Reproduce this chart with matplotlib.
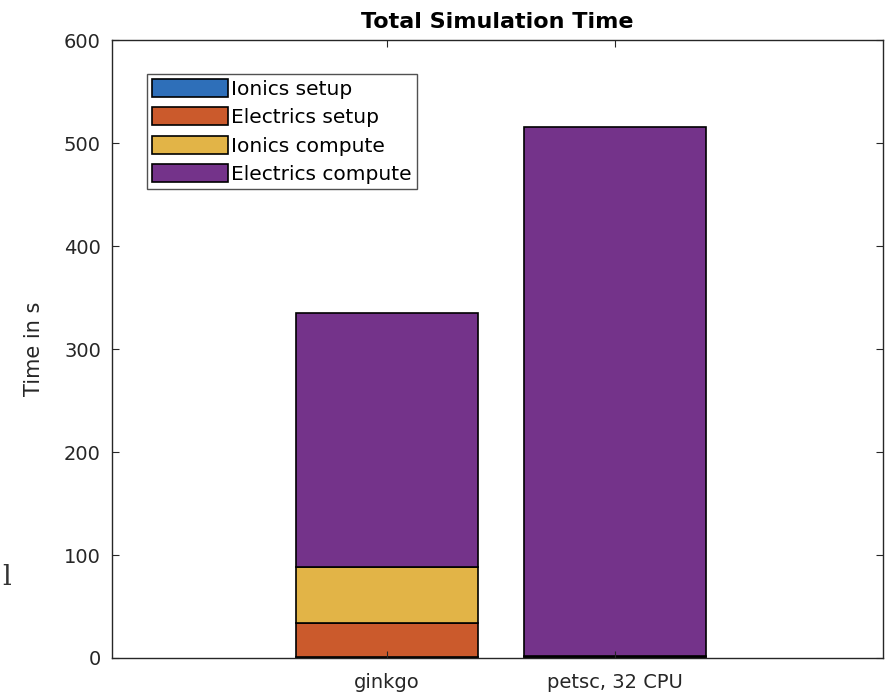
import numpy as np
import matplotlib.pyplot as plt

categories = ["ginkgo", "petsc, 32 CPU"]
series = ["Ionics setup", "Electrics setup", "Ionics compute", "Electrics compute"]
ionics_setup = [0.5, 0.5]
electrics_setup = [33, 0.8]
ionics_compute = [55, 0.2]
electrics_compute = [246, 514]
colors = ["#2e6fb9", "#cb5a2c", "#e2b447", "#74338a"]

values = [ionics_setup, electrics_setup, ionics_compute, electrics_compute]

fig = plt.figure(figsize=(8.94, 6.96), dpi=100)
ax = fig.add_axes([0.1253, 0.0546, 0.8624, 0.8879])

x = np.arange(1, len(categories) + 1)
bottom = np.zeros(len(categories))
for i in range(len(series)):
    ax.bar(x, values[i], width=0.8, bottom=bottom, color=colors[i],
           edgecolor="black", linewidth=1.2, label=series[i])
    bottom += np.array(values[i])

ax.set_xlim(-0.206, 3.175)
ax.set_ylim(0, 600)
ax.set_xticks(x)
ax.set_xticklabels(categories)
ax.set_yticks(range(0, 601, 100))
ax.tick_params(direction="in", top=True, right=True, labelsize=14,
               colors="#262626", length=5, pad=8)
ax.tick_params(axis="x", pad=11)
for s in ax.spines.values():
    s.set_color("#262626")
    s.set_linewidth(1.0)

ax.set_ylabel("Time in s", fontsize=15, color="#262626", labelpad=14)
ax.set_title("Total Simulation Time", fontsize=16, fontweight="bold", pad=9)

leg = ax.legend(loc="upper left", bbox_to_anchor=(0.045, 0.945), fontsize=14.5,
                frameon=True, fancybox=False, edgecolor="#262626",
                handlelength=3.8, handleheight=1.0, handletextpad=0.15,
                labelspacing=0.42, borderpad=0.25, borderaxespad=0)
leg.get_frame().set_linewidth(1.0)

fig.text(0.003, 0.16, "l", fontsize=20, family="DejaVu Serif", color="#333333")

plt.savefig("out.png", dpi=100)
